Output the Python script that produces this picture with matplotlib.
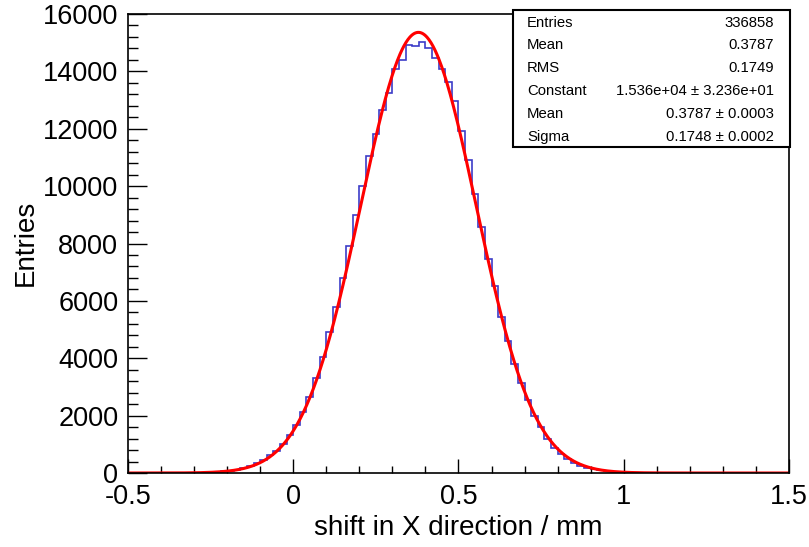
import numpy as np
import matplotlib
matplotlib.use("Agg")
import matplotlib.pyplot as plt
from matplotlib.ticker import MultipleLocator, FuncFormatter
from matplotlib.patches import Rectangle

plt.rcParams['font.family'] = ['Liberation Sans', 'DejaVu Sans']
plt.rcParams['axes.unicode_minus'] = False

# histogram: 100 bins from -0.5 to 1.5 (width 0.02), counts
bin_lo, bin_hi, n_bins = -0.5, 1.5, 100
counts = [
    0, 0, 0, 0, 0,
    1, 1, 2, 3, 6, 10, 15, 24, 37, 55,
    82, 118, 170, 240, 340, 470, 620, 780, 1010, 1340,
    1680, 2130, 2660, 3320, 4060, 4930, 5800, 6800, 7900, 8980,
    10000, 11050, 11800, 12650, 13250, 14100, 14380, 14930, 14880, 15040,
    14810, 14470, 14090, 13640, 12950, 11930, 10900, 9720, 8580, 7450,
    6520, 5440, 4590, 3800, 3130, 2560, 2000, 1590, 1180, 880,
    650, 480, 350, 255, 180, 125, 88, 60, 40, 27,
    18, 11, 7, 5, 3, 2, 1,
    0, 0, 0, 0, 0, 0, 0, 0, 0, 0, 0, 0, 0, 0, 0, 0, 0, 0,
]

# gaussian fit parameters (from the stats box)
fit_constant = 15360.0
fit_mean = 0.3787
fit_sigma = 0.1748

stats_labels = ["Entries", "Mean", "RMS", "Constant", "Mean", "Sigma"]
stats_values = ["336858", "0.3787", "0.1749",
                "1.536e+04 \u00b1 3.236e+01",
                "0.3787 \u00b1 0.0003",
                "0.1748 \u00b1 0.0002"]

W, H = 809, 547
fig = plt.figure(figsize=(W / 100, H / 100), dpi=100)
ax = fig.add_axes([128 / W, 1 - 473 / H, (789 - 128) / W, (473 - 14) / H])

edges = np.linspace(bin_lo, bin_hi, n_bins + 1)
ax.stairs(counts, edges, color='#3c3cc8', linewidth=1.2, baseline=None)

xf = np.linspace(bin_lo, bin_hi, 1000)
yf = fit_constant * np.exp(-0.5 * ((xf - fit_mean) / fit_sigma) ** 2)
ax.plot(xf, yf, color='#ff0000', linewidth=2.2)

ax.set_xlim(bin_lo, bin_hi)
ax.set_ylim(0, 16000)
ax.xaxis.set_major_locator(MultipleLocator(0.5))
ax.xaxis.set_minor_locator(MultipleLocator(0.1))
ax.yaxis.set_major_locator(MultipleLocator(2000))
ax.yaxis.set_minor_locator(MultipleLocator(400))
ax.xaxis.set_major_formatter(FuncFormatter(lambda v, p: '%g' % v))
ax.yaxis.set_major_formatter(FuncFormatter(lambda v, p: '%d' % v))
ax.tick_params(which='both', direction='in', top=False, right=False,
               width=1.0, labelsize=19.5)
ax.tick_params(axis='x', which='major', length=10, pad=8)
ax.tick_params(axis='x', which='minor', length=5)
ax.tick_params(axis='y', which='major', length=14, pad=7)
ax.tick_params(axis='y', which='minor', length=7)
for s in ax.spines.values():
    s.set_linewidth(1.2)

fig.text(458.5 / W, 1 - 528 / H, "shift in X direction / mm",
         ha='center', va='center', fontsize=20)
fig.text(26 / W, 1 - 243 / H, "Entries", rotation=90,
         ha='center', va='center', fontsize=20)

# stats box
bx0, bx1, by0, by1 = 513, 790, 10, 147
fig.add_artist(Rectangle((bx0 / W, 1 - by1 / H), (bx1 - bx0) / W, (by1 - by0) / H,
                         transform=fig.transFigure, facecolor='white',
                         edgecolor='black', linewidth=1.5, zorder=5))
row_h = (by1 - by0) / len(stats_labels)
for i, (lab, val) in enumerate(zip(stats_labels, stats_values)):
    yy = 1 - (by0 + (i + 0.55) * row_h) / H
    fig.text((bx0 + 14) / W, yy, lab, ha='left', va='center', fontsize=10.7, zorder=6)
    fig.text((bx1 - 16) / W, yy, val, ha='right', va='center', fontsize=10.7, zorder=6)

fig.savefig("out.png", dpi=100)
